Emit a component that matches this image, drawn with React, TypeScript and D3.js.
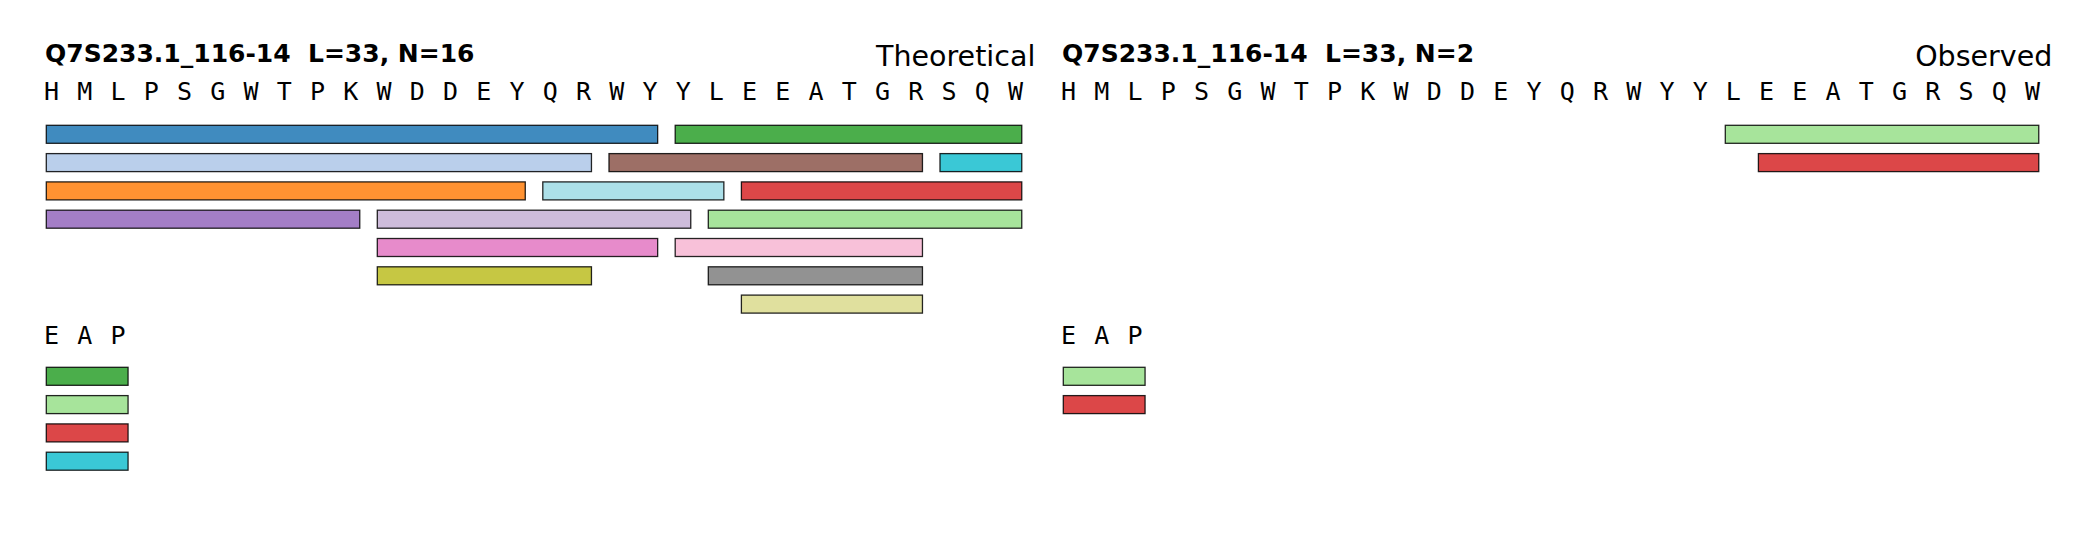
import * as d3 from 'd3'

const sequence = 'HMLPSGWTPKWDDEYQRWYYLEEATGRSQW'.split('')
const legendSequence = ['E', 'A', 'P']

const proteinId = 'Q7S233.1_116-14'
const seqLength = 33

// theoretical peptides, residue index start/end (inclusive)
const theoStarts = [0, 0, 0, 0, 10, 10, 10, 15, 17, 19, 19, 20, 20, 21, 21, 27]
const theoEnds = [18, 16, 14, 9, 19, 18, 16, 20, 26, 29, 26, 29, 26, 29, 26, 29]
const theoColors = [
  '#1f77b4', '#aec7e8', '#ff7f0e', '#9467bd', '#c5b0d5', '#e377c2', '#bcbd22', '#9edae5',
  '#8c564b', '#2ca02c', '#f7b6d2', '#98df8a', '#7f7f7f', '#d62728', '#dbdb8d', '#17becf',
]
const theoLegend = ['#2ca02c', '#98df8a', '#d62728', '#17becf']

// observed peptides
const obsStarts = [20, 21]
const obsEnds = [29, 29]
const obsColors = ['#98df8a', '#d62728']
const obsLegend = ['#98df8a', '#d62728']

type Pep = { start: number; end: number; color: string; lane: number }

// first-fit lane packing
function pack(starts: number[], ends: number[], colors: string[]): Pep[] {
  const laneEnds: number[] = []
  return starts.map((start, i) => {
    let lane = laneEnds.findIndex((e) => e < start)
    if (lane < 0) {
      lane = laneEnds.length
      laneEnds.push(ends[i])
    } else laneEnds[lane] = ends[i]
    return { start, end: ends[i], color: colors[i], lane }
  })
}

const W = 2100
const H = 540
const step = 33.1
const x = d3.scaleLinear().domain([0, 30]).range([0, 30 * step])
const letterX = d3.scaleLinear().domain([0, 1]).range([5.3, 5.3 + 33.24])
const rowY = d3.scaleLinear().domain([0, 1]).range([125.3, 153.6])
const legendY = d3.scaleLinear().domain([0, 1]).range([367.3, 395.6])
const barH = 18
const gap = 0.53

function Bar({ start, end, color, y }: { start: number; end: number; color: string; y: number }) {
  return (
    <rect
      x={x(start)}
      y={y}
      width={x(end + 1 - gap) - x(start)}
      height={barH}
      fill={color}
      fillOpacity={0.85}
      stroke="#000"
      strokeOpacity={0.85}
      strokeWidth={1.3}
    />
  )
}

function Panel({
  left,
  label,
  starts,
  ends,
  colors,
  legend,
}: {
  left: number
  label: string
  starts: number[]
  ends: number[]
  colors: string[]
  legend: string[]
}) {
  const peps = pack(starts, ends, colors)
  const right = 989
  return (
    <g transform={`translate(${left},0)`}>
      <text x={-1.3} y={62} fontFamily="DejaVu Sans" fontWeight="bold" fontSize={25} fill="#000">
        {`${proteinId}\u00a0\u00a0L=${seqLength}, N=${starts.length}`}
      </text>
      <text x={right} y={66} textAnchor="end" fontFamily="DejaVu Sans" fontSize={28.5} fill="#000">
        {label}
      </text>
      {sequence.map((c, i) => (
        <text
          key={i}
          x={letterX(i)}
          y={99.5}
          textAnchor="middle"
          fontFamily="DejaVu Sans Mono"
          fontSize={25}
          fill="#000"
        >
          {c}
        </text>
      ))}
      {peps.map((p, i) => (
        <Bar key={i} start={p.start} end={p.end} color={p.color} y={rowY(p.lane)} />
      ))}
      {legendSequence.map((c, i) => (
        <text
          key={i}
          x={letterX(i)}
          y={344}
          textAnchor="middle"
          fontFamily="DejaVu Sans Mono"
          fontSize={25}
          fill="#000"
        >
          {c}
        </text>
      ))}
      {legend.map((c, i) => (
        <Bar key={i} start={0} end={legendSequence.length - 1} color={c} y={legendY(i)} />
      ))}
    </g>
  )
}

export default function App() {
  return (
    <svg
      width={W}
      height={H}
      viewBox={`0 0 ${W} ${H}`}
      style={{ position: 'absolute', left: 0, top: 0, background: '#fff' }}
    >
      <rect width={W} height={H} fill="#fff" />
      <Panel
        left={46.3}
        label="Theoretical"
        starts={theoStarts}
        ends={theoEnds}
        colors={theoColors}
        legend={theoLegend}
      />
      <Panel
        left={1063.3}
        label="Observed"
        starts={obsStarts}
        ends={obsEnds}
        colors={obsColors}
        legend={obsLegend}
      />
    </svg>
  )
}
